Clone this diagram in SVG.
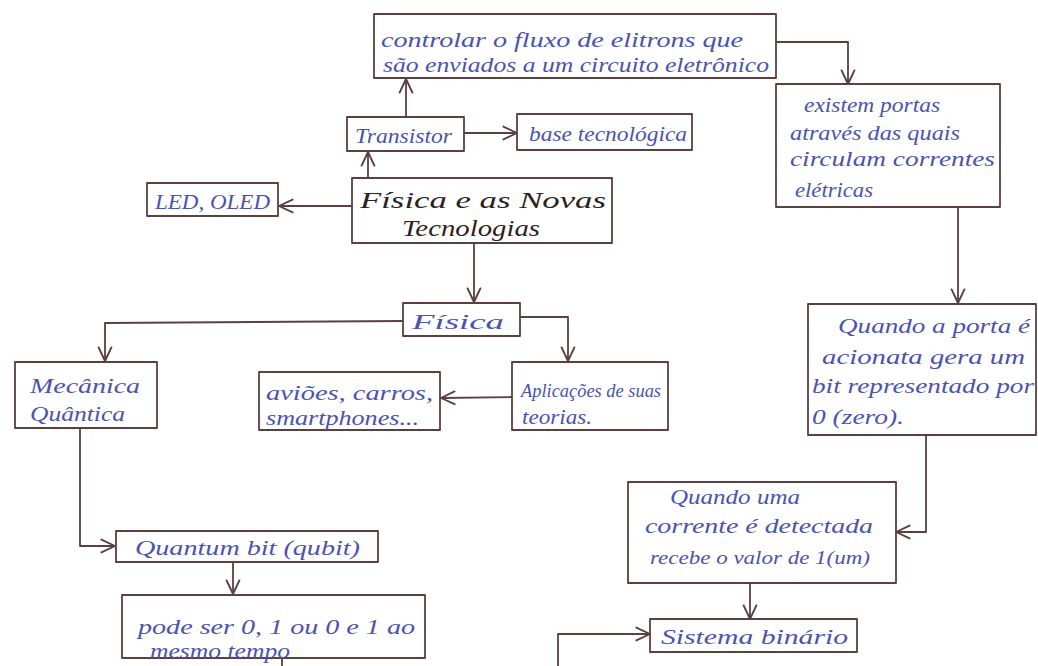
<svg xmlns="http://www.w3.org/2000/svg" width="1038" height="666" viewBox="0 0 1038 666">
  <style>
    .box { fill: none; stroke: #5a4040; stroke-width: 1.8; stroke-linejoin: round; }
    .edge { fill: none; stroke: #5a4040; stroke-width: 1.8; stroke-linejoin: round; }
    .t { font-family: "Liberation Serif", "DejaVu Serif", serif; font-style: italic; font-size: 22px; fill: #4a52b5; }
    .s { font-size: 19px; }
    .title { font-family: "Liberation Serif", "DejaVu Serif", serif; font-style: italic; font-size: 24px; fill: #2a2222; }
  </style>
  <defs>
    <marker id="arr" viewBox="0 0 20 20" refX="19" refY="10" markerWidth="16" markerHeight="16" markerUnits="userSpaceOnUse" orient="auto">
      <path d="M2 2 L19 10 L2 18" fill="none" stroke="#5a4040" stroke-width="2.4" stroke-linecap="round" stroke-linejoin="round"/>
    </marker>
  </defs>
  <rect width="1038" height="666" fill="#ffffff"/>

  <!-- connectors -->
  <g id="connectors">
    <path class="edge" d="M352 206 L279 206" marker-end="url(#arr)"/>
    <path class="edge" d="M368 178 L368 152" marker-end="url(#arr)"/>
    <path class="edge" d="M464 133 L517 133" marker-end="url(#arr)"/>
    <path class="edge" d="M406 117 L406 79" marker-end="url(#arr)"/>
    <path class="edge" d="M776 42 L848 42 L848 84" marker-end="url(#arr)"/>
    <path class="edge" d="M958 207 L958 303" marker-end="url(#arr)"/>
    <path class="edge" d="M926 435 L926 532 L896 532" marker-end="url(#arr)"/>
    <path class="edge" d="M750 583 L750 619" marker-end="url(#arr)"/>
    <path class="edge" d="M558 666 L558 634 L650 634" marker-end="url(#arr)"/>
    <path class="edge" d="M282 658 L282 666"/>
    <path class="edge" d="M474 243 L474 302" marker-end="url(#arr)"/>
    <path class="edge" d="M403 321 L105 323 L105 361" marker-end="url(#arr)"/>
    <path class="edge" d="M520 317 L568 317 L568 361" marker-end="url(#arr)"/>
    <path class="edge" d="M512 397 L441 398" marker-end="url(#arr)"/>
    <path class="edge" d="M80 428 L80 546 L115 546" marker-end="url(#arr)"/>
    <path class="edge" d="M233 562 L233 594" marker-end="url(#arr)"/>
  </g>

  <g id="n-controlar">
    <rect class="box" x="374" y="14" width="402" height="64"/>
    <text class="t" x="381" y="47" textLength="362" lengthAdjust="spacingAndGlyphs">controlar o fluxo de elitrons que</text>
    <text class="t" x="383" y="72" textLength="386" lengthAdjust="spacingAndGlyphs">são enviados a um circuito eletrônico</text>
  </g>

  <g id="n-transistor">
    <rect class="box" x="347" y="117" width="117" height="34"/>
    <text class="t" x="355" y="143" textLength="97" lengthAdjust="spacingAndGlyphs">Transistor</text>
  </g>

  <g id="n-base">
    <rect class="box" x="517" y="114" width="175" height="36"/>
    <text class="t" x="529" y="141" textLength="158" lengthAdjust="spacingAndGlyphs">base tecnológica</text>
  </g>

  <g id="n-led">
    <rect class="box" x="147" y="183" width="131" height="33"/>
    <text class="t" x="155" y="209" textLength="115" lengthAdjust="spacingAndGlyphs">LED, OLED</text>
  </g>

  <g id="n-fisica-tec">
    <rect class="box" x="352" y="178" width="260" height="65"/>
    <text class="title" x="360" y="208" textLength="246" lengthAdjust="spacingAndGlyphs">Física e as Novas</text>
    <text class="title" x="402" y="236" textLength="138" lengthAdjust="spacingAndGlyphs">Tecnologias</text>
  </g>

  <g id="n-portas">
    <rect class="box" x="776" y="84" width="224" height="123"/>
    <text class="t" x="804" y="112" textLength="136" lengthAdjust="spacingAndGlyphs">existem portas</text>
    <text class="t" x="790" y="140" textLength="170" lengthAdjust="spacingAndGlyphs">através das quais</text>
    <text class="t" x="790" y="166" textLength="205" lengthAdjust="spacingAndGlyphs">circulam correntes</text>
    <text class="t" x="795" y="197" textLength="78" lengthAdjust="spacingAndGlyphs">elétricas</text>
  </g>

  <g id="n-fisica">
    <rect class="box" x="403" y="303" width="117" height="33"/>
    <text class="t" x="412" y="329" textLength="92" lengthAdjust="spacingAndGlyphs">Física</text>
  </g>

  <g id="n-mecanica">
    <rect class="box" x="15" y="362" width="142" height="66"/>
    <text class="t" x="30" y="393" textLength="110" lengthAdjust="spacingAndGlyphs">Mecânica</text>
    <text class="t" x="30" y="421" textLength="95" lengthAdjust="spacingAndGlyphs">Quântica</text>
  </g>

  <g id="n-avioes">
    <rect class="box" x="259" y="372" width="181" height="58"/>
    <text class="t" x="266" y="400" textLength="167" lengthAdjust="spacingAndGlyphs">aviões, carros,</text>
    <text class="t" x="266" y="425" textLength="153" lengthAdjust="spacingAndGlyphs">smartphones...</text>
  </g>

  <g id="n-aplicacoes">
    <rect class="box" x="512" y="362" width="156" height="68"/>
    <text class="t s" x="521" y="397" textLength="140" lengthAdjust="spacingAndGlyphs">Aplicações de suas</text>
    <text class="t" x="522" y="424" textLength="70" lengthAdjust="spacingAndGlyphs">teorias.</text>
  </g>

  <g id="n-porta-zero">
    <rect class="box" x="808" y="304" width="228" height="131"/>
    <text class="t" x="838" y="333" textLength="192" lengthAdjust="spacingAndGlyphs">Quando a porta é</text>
    <text class="t" x="822" y="364" textLength="203" lengthAdjust="spacingAndGlyphs">acionata gera um</text>
    <text class="t" x="812" y="393" textLength="222" lengthAdjust="spacingAndGlyphs">bit representado por</text>
    <text class="t" x="812" y="424" textLength="92" lengthAdjust="spacingAndGlyphs">0 (zero).</text>
  </g>

  <g id="n-corrente">
    <rect class="box" x="628" y="482" width="268" height="101"/>
    <text class="t" x="670" y="504" textLength="130" lengthAdjust="spacingAndGlyphs">Quando uma</text>
    <text class="t" x="645" y="533" textLength="228" lengthAdjust="spacingAndGlyphs">corrente é detectada</text>
    <text class="t s" x="650" y="564" textLength="220" lengthAdjust="spacingAndGlyphs">recebe o valor de 1(um)</text>
  </g>

  <g id="n-qubit">
    <rect class="box" x="116" y="531" width="262" height="31"/>
    <text class="t" x="135" y="555" textLength="225" lengthAdjust="spacingAndGlyphs">Quantum bit (qubit)</text>
  </g>

  <g id="n-pode-ser">
    <rect class="box" x="122" y="595" width="303" height="63"/>
    <text class="t" x="138" y="634" textLength="277" lengthAdjust="spacingAndGlyphs">pode ser 0, 1 ou 0 e 1 ao</text>
    <text class="t" x="150" y="658" textLength="140" lengthAdjust="spacingAndGlyphs">mesmo tempo</text>
  </g>

  <g id="n-binario">
    <rect class="box" x="650" y="619" width="207" height="33"/>
    <text class="t" x="661" y="644" textLength="187" lengthAdjust="spacingAndGlyphs">Sistema binário</text>
  </g>
</svg>
